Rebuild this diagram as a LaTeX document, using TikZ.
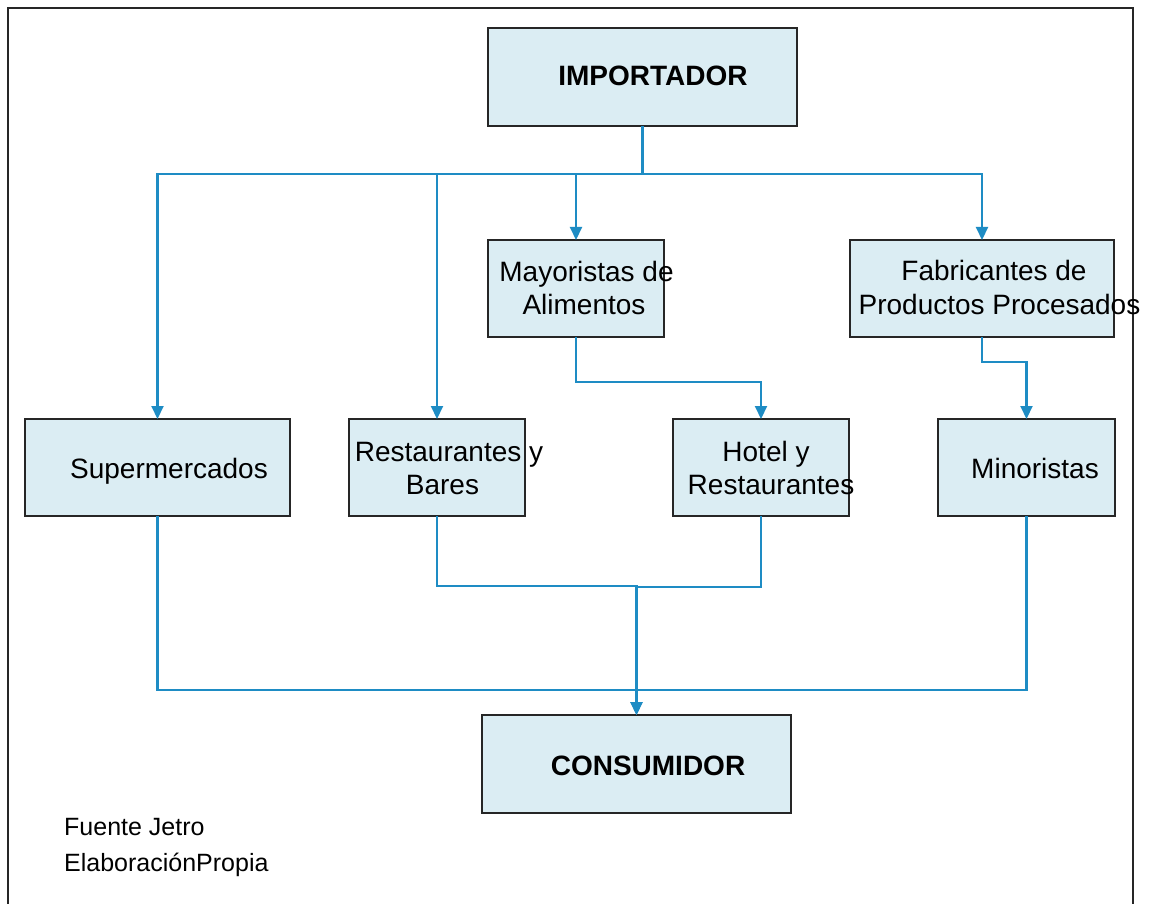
\documentclass[tikz,border=0pt]{standalone}
\usepackage{fontspec}
\setmainfont{Liberation Sans}
\usetikzlibrary{arrows.meta}
\definecolor{boxfill}{RGB}{219,237,243}
\definecolor{linkblue}{RGB}{30,140,196}
\begin{document}
\begin{tikzpicture}[x=1pt,y=-1pt,
  box/.style={draw=black!85,line width=1.9pt,fill=boxfill,inner sep=0pt,outer sep=0pt},
  lbl/.style={inner sep=0pt,anchor=base,font=\fontsize{28pt}{33pt}\selectfont},
  blbl/.style={inner sep=0pt,anchor=base,font=\fontsize{28pt}{33pt}\selectfont\bfseries},
  note/.style={inner sep=0pt,anchor=base west,font=\fontsize{25pt}{30pt}\selectfont},
  link/.style={draw=linkblue,line width=2.1pt},
  conn/.style={link,-{Triangle[width=12pt,length=13pt]}}]
\useasboundingbox (0,0) rectangle (1152,904);
\fill[white] (0,0) rectangle (1152,904);
% frame
\draw[black!85,line width=1.9pt] (8,904) -- (8,8) -- (1133,8) -- (1133,904);
% boxes
\node[box,minimum width=309pt,minimum height=98pt] (imp) at (642.5,77) {};
\node[box,minimum width=176pt,minimum height=97pt] (may) at (576,288.5) {};
\node[box,minimum width=264pt,minimum height=97pt] (fab) at (982,288.5) {};
\node[box,minimum width=265pt,minimum height=97pt] (sup) at (157.5,467.5) {};
\node[box,minimum width=176pt,minimum height=97pt] (res) at (437,467.5) {};
\node[box,minimum width=176pt,minimum height=97pt] (hot) at (761,467.5) {};
\node[box,minimum width=177pt,minimum height=97pt] (min) at (1026.5,467.5) {};
\node[box,minimum width=309pt,minimum height=98pt] (con) at (636.5,764) {};
% labels
\node[blbl] (limp) at (653,86) {IMPORTADOR};
\node[blbl] (lcon) at (648,775) {CONSUMIDOR};
\node[lbl] (lmay1) at (586.5,282) {Mayoristas de};
\node[lbl] (lmay2) at (584,315) {Alimentos};
\node[lbl] (lfab1) at (994,281) {Fabricantes de};
\node[lbl] (lfab2) at (999.5,314) {Productos Procesados};
\node[lbl] (lsup) at (169,478) {Supermercados};
\node[lbl] (lres1) at (449,461) {Restaurantes\ y};
\node[lbl] (lres2) at (442.5,494) {Bares};
\node[lbl] (lhot1) at (766,461) {Hotel y};
\node[lbl] (lhot2) at (771,494) {Restaurantes};
\node[lbl] (lmin) at (1035,478) {Minoristas};
\node[note] (n1) at (64,835) {Fuente Jetro};
\node[note] (n2) at (64,871) {ElaboraciónPropia};
% connectors
\path (imp.south) ++(0,48) coordinate (bus);
\draw[link] (imp.south) -- (bus);
\draw[conn] (bus) -| (sup.north);
\draw[conn] (bus) -| (res.north);
\draw[conn] (bus) -| (may.north);
\draw[conn] (bus) -| (fab.north);
\draw[conn] (may.south) -- ++(0,45) -| (hot.north);
\draw[conn] (fab.south) -- ++(0,25) -| (min.north);
\draw[conn] (res.south) -- ++(0,70) -| (con.north);
\draw[conn] (hot.south) -- ++(0,71) -| (con.north);
\draw[link] (sup.south) -- ++(0,174) -| (min.south);
\end{tikzpicture}
\end{document}
